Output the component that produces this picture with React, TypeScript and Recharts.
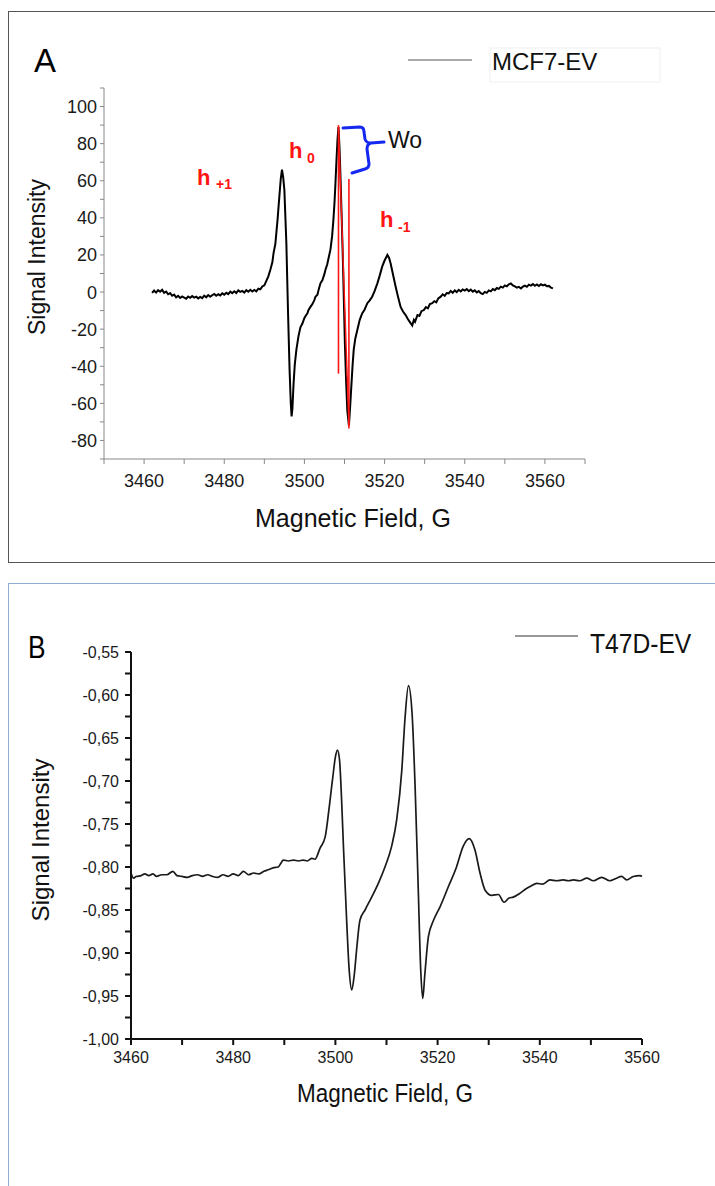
import { LineChart, Line, XAxis, YAxis, ReferenceLine } from 'recharts';

// MCF7-EV spectrum (field in G, signal in a.u.)
const mcf7Field = [
  3462, 3462.5, 3463, 3463.5, 3464, 3464.5, 3465, 3465.5, 3466, 3466.5,
  3467, 3467.5, 3468, 3468.5, 3469, 3469.5, 3470, 3470.5, 3471, 3471.5,
  3472, 3472.5, 3473, 3473.5, 3474, 3474.5, 3475, 3475.5, 3476, 3476.5,
  3477, 3477.5, 3478, 3478.5, 3479, 3479.5, 3480, 3480.5, 3481, 3481.5,
  3482, 3482.5, 3483, 3483.5, 3484, 3484.5, 3485, 3485.5, 3486, 3486.5,
  3487, 3487.5, 3488, 3488.5, 3489, 3489.5, 3490, 3490.5, 3491, 3491.5,
  3492, 3492.3, 3492.75, 3493.3, 3493.8, 3494.1, 3494.4, 3494.7, 3495, 3495.5,
  3495.9, 3496.3, 3496.6, 3496.8, 3497, 3497.3, 3497.6, 3498, 3498.5, 3499,
  3499.5, 3500, 3500.25, 3500.75, 3501, 3501.5, 3502, 3502.5, 3502.75, 3503.25,
  3503.5, 3504, 3504.5, 3505, 3505.25, 3505.7, 3506.1, 3506.5, 3506.9, 3507.2,
  3507.5, 3507.75, 3508, 3508.25, 3508.5, 3508.75, 3509, 3509.3, 3509.6, 3510.1,
  3510.4, 3510.7, 3511.1, 3511.4, 3511.7, 3512, 3512.3, 3512.7, 3513.2, 3513.8,
  3514.4, 3515, 3515.7, 3516.3, 3516.9, 3517.5, 3518.2, 3518.8, 3519.4, 3520,
  3520.7, 3521.1, 3521.5, 3522.1, 3522.75, 3523.4, 3524, 3524.6, 3525.25, 3525.8,
  3526.4, 3526.9, 3527.3, 3527.6, 3528.2, 3528.7, 3529.2, 3529.8, 3530.3, 3530.8,
  3531.3, 3531.9, 3532.4, 3532.9, 3533.4, 3534, 3534.5, 3535, 3535.5, 3536,
  3536.5, 3537, 3537.5, 3538, 3538.5, 3539, 3539.5, 3540, 3540.5, 3541,
  3541.5, 3542, 3542.5, 3543, 3543.5, 3544, 3544.5, 3545, 3545.5, 3546,
  3546.5, 3547, 3547.5, 3548, 3548.5, 3549, 3549.5, 3550, 3550.5, 3551,
  3551.5, 3552, 3552.5, 3553, 3553.5, 3554, 3554.5, 3555, 3555.5, 3556,
  3556.5, 3557, 3557.5, 3558, 3558.5, 3559, 3559.5, 3560, 3560.5, 3561,
  3561.5, 3562,
];
const mcf7Signal = [
  -0.5, 0.8, -0.3, 1.0, 0.2, 1.2, -0.4, 0.3, -1.2, -0.6,
  -2.0, -1.4, -2.8, -2.0, -3.2, -2.4, -3.0, -3.6, -2.4, -3.1,
  -2.2, -3.0, -2.5, -3.4, -2.6, -3.3, -1.9, -2.8, -1.6, -2.5,
  -1.7, -1.0, -2.0, -1.2, -1.8, -0.7, -1.4, -0.4, -1.1, 0.2,
  -0.6, 0.4, -0.5, 0.9, 0.1, 0.6, -0.3, 1.0, 0.2, 1.2,
  0.3, 1.1, 0.4, 1.8, 1.5, 3.0, 3.6, 6.0, 8.5, 12,
  16, 21, 26, 39, 53, 61, 66, 62, 55, 26,
  -10, -42, -60, -67, -63, -49, -39, -31, -24, -19,
  -17, -14, -13, -11.5, -9.8, -8, -6.5, -4.2, -2.5, -1.5,
  0.8, 4.7, 6.5, 9.8, 12, 15, 19, 23, 30, 38,
  48, 59, 71, 82, 89, 78, 62, 40, 17, -28,
  -48, -64, -72, -62, -51, -40, -31, -25, -20.5, -15,
  -11.5, -9.5, -6, -4.5, -2.5, 0.5, 4.7, 9, 13.7, 17,
  20, 18.5, 15.5, 9.5, 3, -3, -8, -10.5, -12.4, -14.5,
  -16.5, -18, -15, -16, -12.4, -12.9, -10.3, -9.7, -8.1, -8.8,
  -6.5, -6, -4.9, -5.5, -3.4, -2.5, -1.2, -2, -0.5, -0.7,
  0.6, -0.4, 0.9, 0, 1.2, 0.3, 1.4, 0.8, 1.6, 0.5,
  1.3, 0.2, 0.9, -0.2, 0.5, -0.6, -1.1, 0.1, -0.4, 0.9,
  0.4, 1.6, 1.0, 2.2, 1.7, 2.9, 2.4, 3.6, 3.1, 4.2,
  4.6, 3.6, 3.0, 2.4, 2.8, 1.9, 2.9, 3.4, 2.8, 4.0,
  3.5, 4.3, 3.4, 4.1, 3.3, 4.2, 3.6, 4.0, 3.1, 3.3,
  2.4, 2.0,
];

// T47D-EV spectrum
const t47dField = [
  3460, 3460.5, 3461, 3462, 3462.7, 3463.5, 3464.3, 3465, 3466, 3467,
  3468.2, 3469, 3470, 3471, 3472, 3473, 3474, 3475, 3476, 3477,
  3478, 3479, 3480, 3481, 3482, 3483, 3484, 3485, 3486, 3487,
  3487.8, 3488.8, 3489.3, 3489.8, 3490.8, 3491.8, 3492.8, 3493.7, 3494.5, 3495.4,
  3496, 3497, 3498, 3498.8, 3499.5, 3500, 3500.4, 3500.8, 3501.2, 3501.6,
  3502.2, 3502.7, 3503.2, 3503.7, 3504.2, 3504.8, 3505.8, 3507.1, 3508.4, 3509.7,
  3511, 3512, 3513, 3513.6, 3514.3, 3515, 3515.6, 3516.2, 3516.7, 3517.1,
  3517.5, 3518.2, 3519.2, 3520.5, 3522.1, 3523.7, 3525, 3526.2, 3527.3, 3528.3,
  3529.3, 3530.6, 3531.9, 3533, 3534, 3534.8, 3536, 3537.4, 3538.3, 3539.4,
  3540.5, 3542, 3543.3, 3544.6, 3545.6, 3546.6, 3547.8, 3549.2, 3550.5, 3552.1,
  3553.7, 3555, 3556, 3557, 3558.3, 3559.6, 3560,
];
const t47dSignal = [
  -0.807, -0.813, -0.811, -0.81, -0.808, -0.81, -0.808, -0.811, -0.809, -0.809,
  -0.805, -0.81, -0.811, -0.812, -0.81, -0.809, -0.811, -0.809, -0.811, -0.812,
  -0.809, -0.811, -0.808, -0.81, -0.805, -0.809, -0.807, -0.808, -0.805, -0.803,
  -0.801, -0.8, -0.796, -0.792, -0.793, -0.792, -0.793, -0.792, -0.793, -0.79,
  -0.791, -0.778, -0.765, -0.73, -0.695, -0.672, -0.664, -0.675, -0.72, -0.78,
  -0.862, -0.92, -0.943, -0.925, -0.893, -0.862, -0.85, -0.835, -0.819, -0.8,
  -0.776, -0.745, -0.687, -0.629, -0.589, -0.621, -0.707, -0.823, -0.92, -0.953,
  -0.925, -0.881, -0.862, -0.846, -0.823, -0.8, -0.776, -0.767, -0.78, -0.807,
  -0.827, -0.833, -0.832, -0.841, -0.836, -0.835, -0.831, -0.825, -0.822, -0.819,
  -0.82, -0.815, -0.816, -0.815, -0.816, -0.815, -0.816, -0.813, -0.816, -0.812,
  -0.816, -0.813, -0.811, -0.815, -0.811, -0.81, -0.811,
];

const fieldTicksA = [3450, 3460, 3470, 3480, 3490, 3500, 3510, 3520, 3530, 3540, 3550, 3560, 3570];
const signalTicksA = [-90, -80, -70, -60, -50, -40, -30, -20, -10, 0, 10, 20, 30, 40, 50, 60, 70, 80, 90, 100, 110];
const fieldTicksB = [3460, 3470, 3480, 3490, 3500, 3510, 3520, 3530, 3540, 3550, 3560];
const signalTicksB = [
  -1, -0.975, -0.95, -0.925, -0.9, -0.875, -0.85, -0.825, -0.8, -0.775,
  -0.75, -0.725, -0.7, -0.675, -0.65, -0.625, -0.6, -0.575, -0.55,
];

const dataA = mcf7Field.map((x, i) => ({ x, y: mcf7Signal[i] }));
const dataB = t47dField.map((x, i) => ({ x, y: t47dSignal[i] }));

const SANS = '"Liberation Sans", Arial, sans-serif';
const RED = '#ff1414';

const xTick = (show: (v: number) => boolean, size: number) => (props: any) => {
  const { x, y, payload } = props;
  if (!show(payload.value)) return <g />;
  return (
    <text x={x} y={y} dy="0.71em" textAnchor="middle" fontSize={size} fontFamily={SANS} fill="#1a1a1a">
      {payload.value}
    </text>
  );
};

const yTick = (show: (v: number, i: number) => boolean, fmt: (v: number) => string, size: number) =>
  (props: any) => {
    const { x, y, payload, index } = props;
    if (!show(payload.value, index)) return <g />;
    return (
      <text x={x} y={y} dy="0.36em" textAnchor="end" fontSize={size} fontFamily={SANS} fill="#1a1a1a">
        {fmt(payload.value)}
      </text>
    );
  };

function Overlay() {
  return (
    <svg width={715} height={1186} style={{ position: 'absolute', left: 0, top: 0, pointerEvents: 'none' }}>
      {/* panel A */}
      <text x={34} y={72} fontSize={33} fontFamily={SANS} fill="#000">A</text>
      <line x1={408} y1={60} x2={472} y2={60} stroke="#555" strokeWidth={1} />
      <rect x={490} y={48} width={170} height={34} fill="none" stroke="#f0f0f0" />
      <text x={492} y={70} fontSize={24} fontFamily={SANS} fill="#111">MCF7-EV</text>

      <text x={197} y={185} fontSize={22} fontWeight="bold" fontFamily={SANS} fill={RED}>h</text>
      <text x={216} y={189} fontSize={14} fontWeight="bold" fontFamily={SANS} fill={RED}>+1</text>
      <text x={289} y={158} fontSize={22} fontWeight="bold" fontFamily={SANS} fill={RED}>h</text>
      <text x={307} y={163} fontSize={14} fontWeight="bold" fontFamily={SANS} fill={RED}>0</text>
      <text x={380} y={227} fontSize={22} fontWeight="bold" fontFamily={SANS} fill={RED}>h</text>
      <text x={398} y={232} fontSize={14} fontWeight="bold" fontFamily={SANS} fill={RED}>-1</text>

      <path
        d="M343,128 L360,127 Q364,127 364,132 L365,139 Q366,143 371,143 L384,142 M371,143 Q367,144 367,149 L369,164 Q369,168 365,169 L352,173"
        fill="none" stroke="#1428f0" strokeWidth={3} strokeLinecap="round" strokeLinejoin="round"
      />
      <text x={388} y={148} fontSize={23} fontFamily={SANS} fill="#111">Wo</text>

      <text x={353} y={527} textAnchor="middle" fontSize={25} fontFamily={SANS} fill="#111">Magnetic Field, G</text>
      <text transform="translate(37,257) rotate(-90)" y={8} textAnchor="middle" fontSize={23} fontFamily={SANS} fill="#111">
        Signal Intensity
      </text>

      {/* panel B, condensed lettering */}
      <text transform="translate(28,658) scale(0.85,1)" fontSize={31} fontFamily={SANS} fill="#000">B</text>
      <line x1={515} y1={636} x2={578} y2={636} stroke="#333" strokeWidth={1} />
      <text transform="translate(590,653) scale(0.88,1)" fontSize={28} fontFamily={SANS} fill="#111">T47D-EV</text>
      <text transform="translate(385,1102) scale(0.9,1)" textAnchor="middle" fontSize={25} fontFamily={SANS} fill="#111">
        Magnetic Field, G
      </text>
      <text transform="translate(41,840) rotate(-90)" y={8} textAnchor="middle" fontSize={24} fontFamily={SANS} fill="#111">
        Signal Intensity
      </text>
    </svg>
  );
}

export default function App() {
  return (
    <div style={{ position: 'absolute', left: 0, top: 0, width: 715, height: 1186, background: '#fff', overflow: 'hidden' }}>
      {/* panel frames */}
      <div style={{ position: 'absolute', left: 8, top: 11, width: 720, height: 550, border: '1.5px solid #555' }} />
      <div style={{ position: 'absolute', left: 8, top: 583, width: 720, height: 620, border: '1.5px solid #8fb0d6' }} />

      <div style={{ position: 'absolute', left: 0, top: 0 }}>
        <LineChart width={715} height={563} data={dataA} margin={{ top: 88, right: 130, bottom: 74, left: 54 }}>
          <XAxis
            dataKey="x"
            type="number"
            domain={[3450, 3570]}
            ticks={fieldTicksA}
            height={30}
            interval={0}
            stroke="#888"
            tickSize={5}
            tickMargin={10}
            tick={xTick((v) => (v - 3460) % 20 === 0 && v <= 3560, 18)}
          />
          <YAxis
            type="number"
            domain={[-90, 110]}
            ticks={signalTicksA}
            width={50}
            interval={0}
            stroke="#888"
            tickSize={4}
            tickMargin={3}
            tick={yTick((v) => v % 20 === 0 && v >= -80 && v <= 100, (v) => String(v), 18)}
          />
          <Line type="linear" dataKey="y" stroke="#000" strokeWidth={2} dot={false} isAnimationActive={false} />
          <ReferenceLine segment={[{ x: 3508.5, y: 90 }, { x: 3508.5, y: -44 }]} stroke={RED} strokeWidth={1.6} ifOverflow="visible" />
          <ReferenceLine segment={[{ x: 3511.1, y: 61 }, { x: 3511.1, y: -73.5 }]} stroke={RED} strokeWidth={1.6} ifOverflow="visible" />
          <ReferenceLine segment={[{ x: 3508.5, y: 89 }, { x: 3511.1, y: -72 }]} stroke={RED} strokeWidth={1.4} ifOverflow="visible" />
        </LineChart>
      </div>

      <div style={{ position: 'absolute', left: 0, top: 584 }}>
        <LineChart width={715} height={602} data={dataB} margin={{ top: 68, right: 73, bottom: 117, left: 76 }}>
          <XAxis
            dataKey="x"
            type="number"
            domain={[3460, 3560]}
            ticks={fieldTicksB}
            height={30}
            interval={0}
            stroke="#111"
            strokeWidth={2}
            tickSize={6}
            tickMargin={7}
            tick={xTick((v) => v % 20 === 0, 16)}
          />
          <YAxis
            type="number"
            domain={[-1, -0.55]}
            ticks={signalTicksB}
            width={55}
            interval={0}
            stroke="#111"
            strokeWidth={2}
            tickSize={6}
            tickMargin={6}
            tick={yTick((_v, i) => i % 2 === 0, (v) => v.toFixed(2).replace('.', ','), 16)}
          />
          <Line type="monotone" dataKey="y" stroke="#1a1a1a" strokeWidth={1.7} dot={false} isAnimationActive={false} />
        </LineChart>
      </div>

      <Overlay />
    </div>
  );
}
